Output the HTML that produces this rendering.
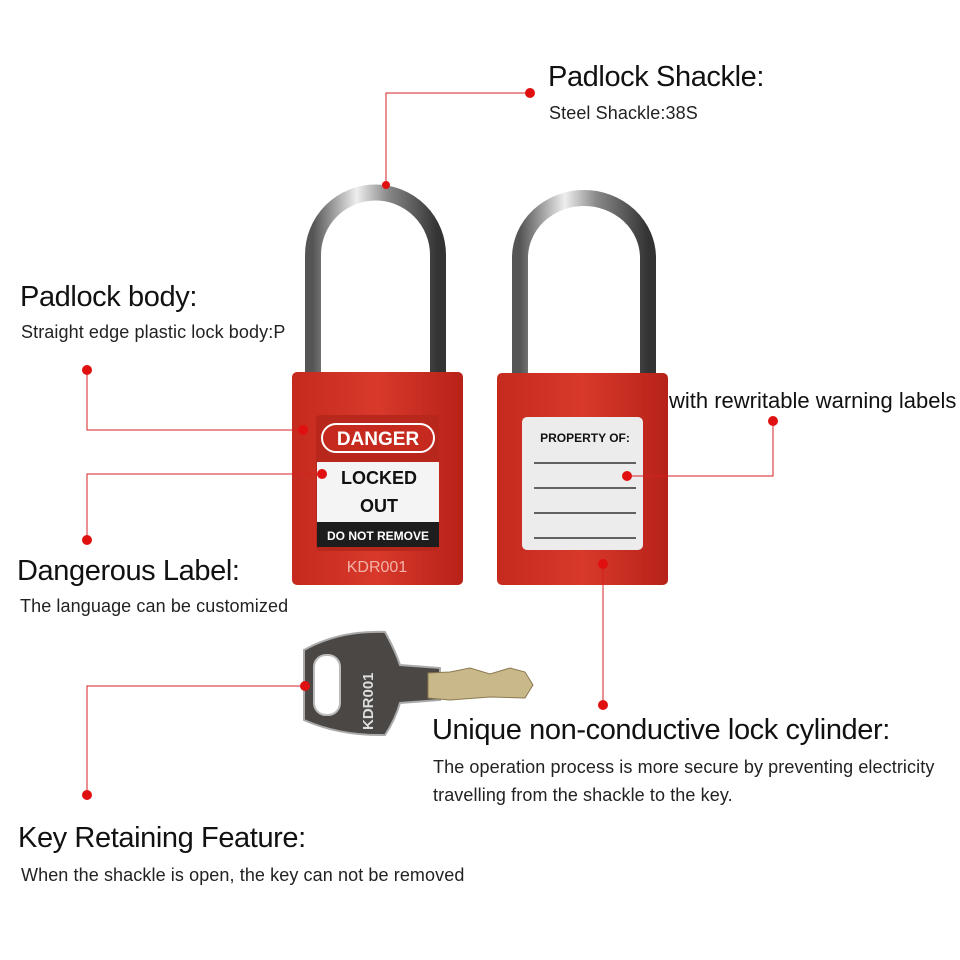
<!DOCTYPE html>
<html><head><style>
body{margin:0;background:#fff;width:960px;height:960px;overflow:hidden;font-family:"Liberation Sans",sans-serif;position:relative}
.t{position:absolute;color:#111;white-space:nowrap}
.h{font-size:29px;letter-spacing:-0.4px}
.s{font-size:18px;color:#222;letter-spacing:0.1px}
</style></head><body>
<svg width="960" height="960" style="position:absolute;left:0;top:0">
<defs>
<linearGradient id="st" x1="0" x2="1"><stop offset="0" stop-color="#555"/><stop offset=".35" stop-color="#eee"/><stop offset=".6" stop-color="#888"/><stop offset="1" stop-color="#333"/></linearGradient>
<linearGradient id="rd" x1="0" x2="1"><stop offset="0" stop-color="#c52a1e"/><stop offset=".5" stop-color="#d8392b"/><stop offset="1" stop-color="#b72218"/></linearGradient>
</defs>
<path d="M313 380 V255 A62 62 0 0 1 438 255 V380" fill="none" stroke="url(#st)" stroke-width="16"/>
<path d="M520 380 V258 A64 60 0 0 1 648 258 V380" fill="none" stroke="url(#st)" stroke-width="16"/>
<rect x="292" y="372" width="171" height="213" rx="5" fill="url(#rd)"/>
<rect x="497" y="373" width="171" height="212" rx="5" fill="url(#rd)"/>
<rect x="316" y="415" width="123" height="136" rx="4" fill="#b8271c"/>
<rect x="322" y="424" width="112" height="28" rx="14" fill="#c62a1f" stroke="#fff" stroke-width="2"/>
<text x="378" y="445" font-size="19" font-weight="bold" fill="#fff" text-anchor="middle" font-family="Liberation Sans">DANGER</text>
<rect x="317" y="462" width="122" height="60" fill="#f4f4f4"/>
<text x="379" y="484" font-size="18" font-weight="bold" fill="#111" text-anchor="middle" font-family="Liberation Sans">LOCKED</text>
<text x="379" y="512" font-size="18" font-weight="bold" fill="#111" text-anchor="middle" font-family="Liberation Sans">OUT</text>
<rect x="317" y="522" width="122" height="25" fill="#1d1d1d"/>
<text x="378" y="540" font-size="12" font-weight="bold" fill="#fff" text-anchor="middle" font-family="Liberation Sans">DO NOT REMOVE</text>
<text x="377" y="572" font-size="16" fill="#f3b3a8" text-anchor="middle" font-family="Liberation Sans">KDR001</text>
<rect x="522" y="417" width="121" height="133" rx="5" fill="#ececec"/>
<text x="585" y="442" font-size="12" font-weight="bold" fill="#111" text-anchor="middle" font-family="Liberation Sans">PROPERTY OF:</text>
<g stroke="#333" stroke-width="1.5"><line x1="534" y1="463" x2="636" y2="463"/><line x1="534" y1="488" x2="636" y2="488"/><line x1="534" y1="513" x2="636" y2="513"/><line x1="534" y1="538" x2="636" y2="538"/></g>
<path d="M304 650 Q340 630 385 632 Q395 650 400 665 L440 668 L440 700 L400 703 Q395 720 385 735 Q340 736 304 720 Z" fill="#4a4744" stroke="#aaa" stroke-width="2"/>
<rect x="314" y="655" width="26" height="60" rx="12" fill="#fff" stroke="#bbb" stroke-width="2"/>
<text x="0" y="0" font-size="15" font-weight="bold" fill="#ddd" transform="translate(373 730) rotate(-90)" font-family="Liberation Sans">KDR001</text>
<path d="M428 673 L450 672 L470 668 L490 674 L510 668 L525 672 L533 685 L525 698 L490 697 L450 700 L428 698 Z" fill="#c9b88a" stroke="#8a7a50"/>
<g stroke="#d42020" stroke-width="1" fill="none">
<path d="M386 185 V93 H530"/>
<path d="M87 370 V430 H303"/>
<path d="M322 474 H87 V540"/>
<path d="M627 476 H773 V421"/>
<path d="M603 564 V705"/>
<path d="M305 686 H87 V795"/>
</g>
<g fill="#e01010">
<circle cx="530" cy="93" r="5"/><circle cx="386" cy="185" r="4"/>
<circle cx="87" cy="370" r="5"/><circle cx="303" cy="430" r="5"/>
<circle cx="322" cy="474" r="5"/><circle cx="87" cy="540" r="5"/>
<circle cx="627" cy="476" r="5"/><circle cx="773" cy="421" r="5"/>
<circle cx="603" cy="564" r="5"/><circle cx="603" cy="705" r="5"/>
<circle cx="305" cy="686" r="5"/><circle cx="87" cy="795" r="5"/>
</g>
</svg>
<div class="t h" style="left:548px;top:61px">Padlock Shackle:</div>
<div class="t s" style="left:549px;top:103px">Steel Shackle:38S</div>
<div class="t h" style="left:20px;top:281px">Padlock body:</div>
<div class="t s" style="left:21px;top:322px">Straight edge plastic lock body:P</div>
<div class="t" style="left:669px;top:388px;font-size:22px;letter-spacing:0px">with rewritable warning labels</div>
<div class="t h" style="left:17px;top:555px">Dangerous Label:</div>
<div class="t s" style="left:20px;top:596px">The language can be customized</div>
<div class="t h" style="left:432px;top:714px">Unique non-conductive lock cylinder:</div>
<div class="t s" style="left:433px;top:757px">The operation process is more secure by preventing electricity</div>
<div class="t s" style="left:433px;top:785px">travelling from the shackle to the key.</div>
<div class="t h" style="left:18px;top:822px">Key Retaining Feature:</div>
<div class="t s" style="left:21px;top:865px">When the shackle is open, the key can not be removed</div>
</body></html>
